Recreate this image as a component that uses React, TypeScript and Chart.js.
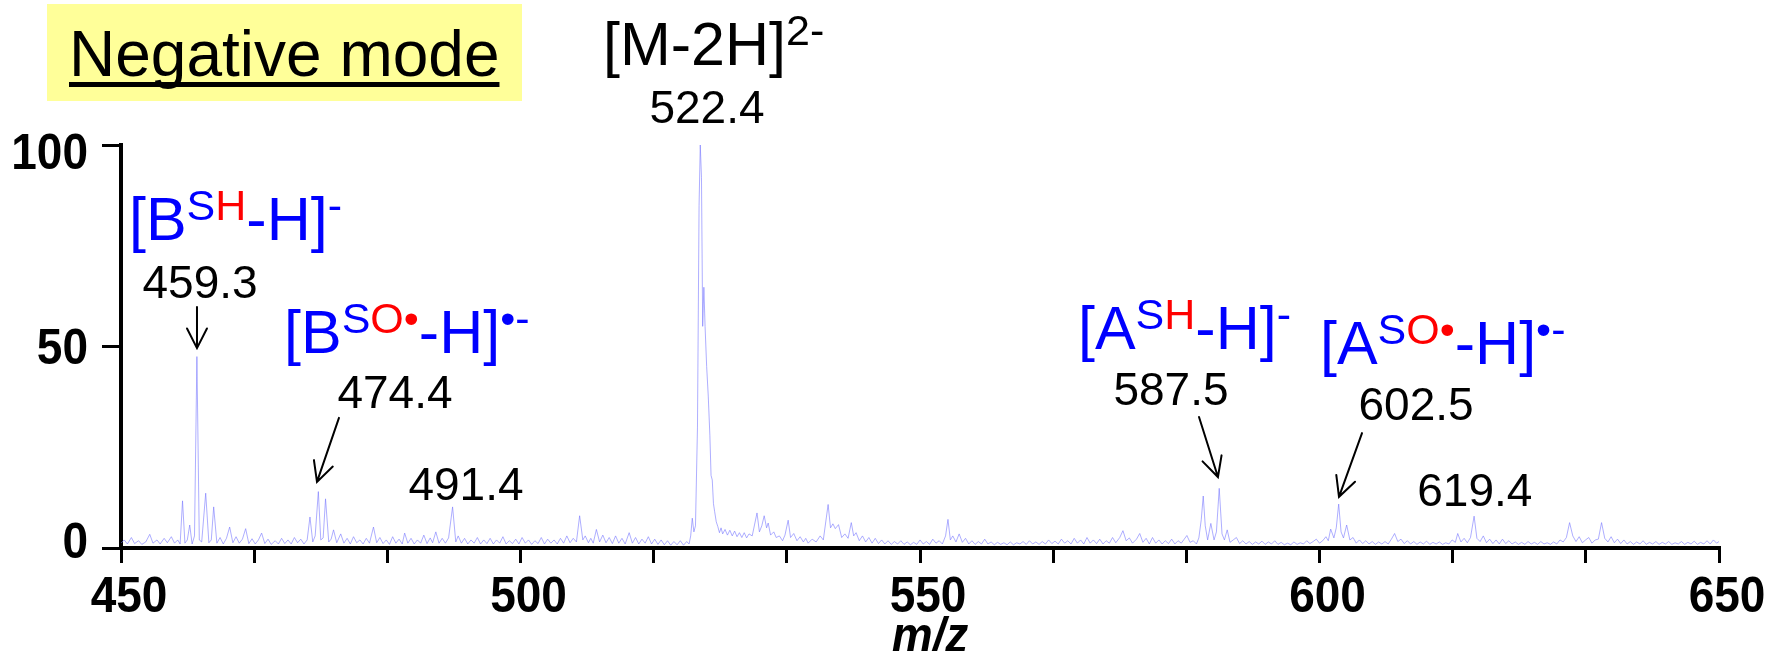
import React, { useEffect, useRef } from "react";
import { Chart, registerables } from "chart.js";

Chart.register(...registerables);

const FONT = '"Liberation Sans", Arial, sans-serif';

// ---- data: [m/z, relative intensity %] ----
const spectrum450to490: [number, number][] = [
  [450.0, 1.2], [450.4, 2.0], [450.8, 1.0], [451.3, 2.6], [451.7, 1.1], [452.2, 1.8], [452.6, 0.9], [453.1, 1.5],
  [453.6, 3.4], [454.0, 1.2], [454.5, 2.0], [454.9, 1.0], [455.4, 2.4], [455.8, 1.3], [456.3, 2.8], [456.7, 1.2],
  [457.1, 2.0], [457.4, 1.0], [457.7, 11.7], [458.0, 1.2], [458.3, 2.0], [458.6, 5.7], [458.9, 1.0], [459.2, 3.0],
  [459.5, 47.5], [459.8, 2.0], [460.1, 1.5], [460.6, 13.6], [461.0, 1.3], [461.3, 2.0], [461.6, 10.2], [462.0, 1.2],
  [462.4, 2.6], [462.8, 1.0], [463.2, 2.4], [463.6, 5.2], [464.0, 1.3], [464.4, 2.8], [464.8, 1.2], [465.2, 2.2],
  [465.6, 4.8], [466.0, 1.1], [466.4, 2.3], [466.8, 1.0], [467.2, 2.0], [467.6, 3.7], [468.0, 1.1], [468.4, 2.2],
  [468.8, 0.9], [469.3, 1.8], [469.7, 1.0], [470.1, 2.4], [470.5, 1.1], [470.9, 2.0], [471.3, 1.0], [471.7, 2.6],
  [472.1, 1.3], [472.5, 2.2], [472.9, 1.0], [473.3, 2.0], [473.65, 7.7], [474.0, 1.5], [474.3, 3.0], [474.7, 14.0],
  [475.0, 2.0], [475.3, 2.5], [475.6, 12.2], [476.0, 1.5], [476.3, 2.2], [476.6, 4.5], [477.0, 1.3], [477.5, 3.5],
  [477.9, 1.2], [478.3, 2.4], [478.7, 1.0], [479.1, 2.8], [479.5, 1.3], [479.9, 2.0], [480.3, 1.0], [480.7, 2.4],
  [481.1, 1.2], [481.6, 5.2], [482.0, 1.3], [482.4, 2.6], [482.8, 1.1], [483.2, 2.0], [483.6, 0.9], [484.0, 2.8],
  [484.4, 1.2], [484.8, 2.2], [485.2, 1.0], [485.5, 3.7], [485.9, 1.2], [486.3, 2.4], [486.7, 1.0], [487.1, 2.0],
  [487.5, 1.2], [487.9, 3.2], [488.3, 1.1], [488.7, 2.5], [489.0, 1.3], [489.4, 4.0], [489.8, 1.2], [490.2, 2.4],
];

const spectrum490to521: [number, number][] = [
  [490.6, 1.2], [491.0, 2.5], [491.5, 10.2], [491.9, 1.5], [492.2, 3.0], [492.6, 1.2], [493.0, 2.4], [493.4, 1.0],
  [493.8, 2.0], [494.2, 1.2], [494.6, 2.6], [495.0, 1.0], [495.4, 2.0], [495.8, 1.1], [496.2, 2.4], [496.6, 1.0],
  [497.0, 2.0], [497.4, 1.2], [497.8, 2.8], [498.2, 1.0], [498.6, 1.8], [499.0, 1.1], [499.4, 2.2], [499.8, 1.0],
  [500.2, 2.6], [500.6, 1.2], [501.0, 2.0], [501.4, 0.9], [501.8, 1.8], [502.2, 1.1], [502.6, 2.6], [503.0, 1.0],
  [503.4, 2.2], [503.8, 1.2], [504.2, 2.0], [504.6, 1.0], [505.0, 2.4], [505.4, 1.2], [505.8, 3.0], [506.2, 1.3],
  [506.6, 2.4], [507.0, 1.5], [507.4, 8.0], [507.8, 2.0], [508.1, 3.0], [508.5, 1.3], [508.8, 2.4], [509.1, 1.2],
  [509.5, 4.6], [509.9, 1.5], [510.3, 3.2], [510.7, 1.3], [511.1, 2.6], [511.5, 1.1], [511.9, 3.0], [512.3, 1.2],
  [512.7, 2.4], [513.1, 1.0], [513.6, 3.8], [514.0, 1.2], [514.4, 2.6], [514.8, 1.0], [515.2, 2.2], [515.6, 1.2],
  [516.0, 2.8], [516.4, 1.0], [516.8, 2.2], [517.2, 0.9], [517.6, 2.0], [518.0, 0.8], [518.4, 1.8], [518.8, 0.7],
  [519.2, 1.6], [519.6, 0.8], [520.0, 1.8], [520.4, 0.7], [520.8, 1.6], [521.1, 1.0],
];

const spectrum521to550: [number, number][] = [
  [521.3, 3.0], [521.5, 7.4], [521.7, 4.0], [521.9, 5.5], [522.15, 30], [522.35, 85], [522.5, 100], [522.65, 92],
  [522.8, 55], [522.95, 64.7], [523.1, 55], [523.3, 45], [523.5, 37.7], [523.7, 28], [523.85, 18], [524.0, 16.9],
  [524.15, 11], [524.3, 9.0], [524.5, 6.5], [524.7, 5.3], [524.9, 3.8], [525.1, 5.0], [525.3, 3.5], [525.6, 4.6],
  [525.9, 3.2], [526.2, 4.4], [526.5, 3.0], [526.8, 4.2], [527.1, 2.8], [527.4, 3.8], [527.7, 2.6], [528.0, 3.8],
  [528.3, 2.5], [528.6, 3.5], [529.0, 3.0], [529.6, 8.7], [529.9, 4.0], [530.2, 5.5], [530.5, 8.0], [530.8, 5.0],
  [531.0, 6.2], [531.3, 3.2], [531.7, 4.0], [532.0, 2.6], [532.4, 3.0], [532.8, 1.8], [533.1, 3.2], [533.5, 6.9],
  [533.8, 2.6], [534.2, 3.6], [534.6, 1.8], [535.0, 2.8], [535.4, 1.5], [535.7, 2.4], [536.0, 1.2], [536.5, 2.2],
  [537.0, 1.5], [537.5, 3.0], [537.9, 2.0], [538.5, 10.8], [538.8, 5.0], [539.1, 6.0], [539.4, 4.8], [539.8, 5.8],
  [540.2, 2.6], [540.6, 3.5], [541.0, 2.4], [541.4, 6.3], [541.7, 3.0], [542.0, 3.8], [542.4, 1.8], [542.8, 3.0],
  [543.2, 1.5], [543.6, 2.6], [544.0, 1.2], [544.4, 2.4], [544.8, 1.1], [545.2, 2.0], [545.6, 1.0], [546.0, 1.8],
  [546.4, 0.9], [546.8, 1.6], [547.2, 1.0], [547.6, 1.8], [548.0, 0.9], [548.4, 1.5], [548.8, 0.8], [549.2, 1.4],
  [549.6, 0.9], [550.0, 2.0],
];

const spectrum550to580: [number, number][] = [
  [550.4, 1.0], [550.8, 1.6], [551.2, 0.9], [551.6, 2.2], [552.0, 1.2], [552.4, 1.8], [552.8, 1.0], [553.2, 3.0],
  [553.5, 7.1], [553.8, 2.0], [554.1, 3.0], [554.5, 1.5], [554.9, 3.5], [555.3, 1.4], [555.7, 2.4], [556.1, 1.0],
  [556.5, 1.8], [556.9, 0.9], [557.3, 1.6], [557.7, 1.0], [558.1, 2.2], [558.5, 1.0], [558.9, 1.5], [559.3, 0.8],
  [559.7, 1.4], [560.1, 0.9], [560.5, 1.3], [560.9, 0.8], [561.3, 1.5], [561.7, 0.8], [562.1, 1.3], [562.5, 1.0],
  [562.9, 1.6], [563.3, 0.9], [563.7, 1.8], [564.1, 1.0], [564.5, 1.5], [564.9, 0.9], [565.3, 1.6], [565.7, 1.0],
  [566.1, 2.0], [566.5, 1.1], [566.9, 1.7], [567.3, 1.0], [567.7, 2.2], [568.1, 1.2], [568.5, 1.8], [568.9, 1.0],
  [569.3, 2.4], [569.7, 1.2], [570.1, 2.0], [570.5, 1.0], [570.9, 2.6], [571.3, 1.2], [571.7, 2.0], [572.1, 1.1],
  [572.5, 2.2], [572.9, 1.0], [573.3, 1.8], [573.7, 1.2], [574.1, 2.6], [574.5, 1.3], [575.0, 2.6], [575.4, 4.3],
  [575.8, 1.8], [576.2, 2.5], [576.6, 1.2], [577.1, 2.2], [577.5, 3.6], [577.9, 1.4], [578.3, 2.4], [578.7, 1.0],
  [579.1, 2.6], [579.5, 1.2], [579.9, 2.0],
];

const spectrum580to610: [number, number][] = [
  [580.3, 1.0], [580.7, 1.8], [581.1, 1.1], [581.5, 2.2], [581.9, 1.0], [582.3, 1.8], [582.7, 1.2], [583.0, 2.0],
  [583.4, 3.1], [583.8, 1.4], [584.2, 1.8], [584.6, 1.0], [584.9, 2.5], [585.2, 7.0], [585.45, 12.9], [585.7, 5.5],
  [586.0, 2.0], [586.4, 6.1], [586.8, 2.0], [587.1, 4.0], [587.45, 14.8], [587.8, 3.5], [588.1, 2.0], [588.45, 4.5],
  [588.8, 1.4], [589.2, 2.0], [589.6, 2.6], [590.0, 1.1], [590.4, 1.8], [590.8, 1.0], [591.2, 1.6], [591.6, 0.9],
  [592.0, 1.5], [592.4, 1.0], [592.8, 1.7], [593.2, 0.9], [593.6, 1.5], [594.0, 1.0], [594.4, 1.8], [594.8, 0.9],
  [595.2, 1.4], [595.6, 0.8], [596.0, 1.2], [596.4, 0.8], [596.8, 1.5], [597.2, 0.9], [597.6, 1.3], [598.0, 1.0],
  [598.4, 1.8], [598.8, 1.1], [599.2, 1.6], [599.6, 2.2], [600.0, 1.2], [600.4, 1.8], [600.8, 2.8], [601.1, 1.8],
  [601.4, 4.7], [601.8, 2.5], [602.1, 5.0], [602.4, 10.9], [602.7, 4.0], [603.0, 2.5], [603.4, 5.7], [603.8, 2.0],
  [604.2, 2.6], [604.6, 1.2], [605.0, 2.0], [605.4, 1.1], [605.8, 1.8], [606.2, 1.0], [606.6, 1.6], [607.0, 0.9],
  [607.4, 1.5], [607.8, 1.0], [608.2, 1.6], [608.6, 1.0], [609.0, 2.2], [609.4, 3.6], [609.8, 1.6], [610.2, 2.2],
];

const spectrum610to650: [number, number][] = [
  [610.6, 1.1], [611.0, 1.8], [611.4, 1.0], [611.8, 1.6], [612.2, 0.9], [612.6, 1.5], [613.0, 1.0], [613.4, 1.7],
  [613.8, 0.9], [614.2, 1.4], [614.6, 1.0], [615.0, 1.5], [615.4, 0.9], [615.8, 1.3], [616.2, 1.0], [616.6, 2.0],
  [617.0, 1.4], [617.3, 3.6], [617.7, 1.5], [618.1, 2.4], [618.5, 1.3], [618.9, 2.6], [619.35, 7.9], [619.7, 2.4],
  [620.1, 1.6], [620.5, 3.0], [620.9, 1.3], [621.3, 2.2], [621.7, 1.1], [622.1, 2.0], [622.5, 1.0], [622.9, 2.2],
  [623.3, 1.1], [623.7, 1.8], [624.1, 1.0], [624.5, 1.5], [624.9, 0.9], [625.3, 1.4], [625.7, 0.9], [626.1, 1.6],
  [626.5, 1.0], [626.9, 1.4], [627.3, 0.9], [627.7, 1.6], [628.1, 1.0], [628.5, 1.3], [628.9, 0.9], [629.3, 1.5],
  [629.7, 1.0], [630.1, 2.0], [630.5, 1.5], [630.9, 2.6], [631.3, 6.3], [631.7, 3.0], [632.1, 1.6], [632.5, 2.8],
  [632.9, 1.3], [633.3, 2.0], [633.7, 2.6], [634.1, 1.2], [634.5, 2.0], [634.9, 2.2], [635.3, 6.3], [635.7, 2.4],
  [636.1, 1.5], [636.5, 2.8], [636.9, 1.3], [637.3, 2.2], [637.7, 1.1], [638.1, 2.0], [638.5, 1.0], [638.9, 1.6],
  [639.3, 0.9], [639.7, 1.5], [640.1, 1.0], [640.5, 1.8], [640.9, 0.9], [641.3, 1.4], [641.7, 1.0], [642.1, 1.6],
  [642.5, 0.9], [642.9, 1.4], [643.3, 1.0], [643.7, 1.6], [644.1, 0.9], [644.5, 1.3], [644.9, 1.0], [645.3, 1.6],
  [645.7, 0.9], [646.1, 1.4], [646.5, 1.0], [646.9, 1.7], [647.3, 0.9], [647.7, 1.4], [648.1, 1.0], [648.5, 1.8],
  [648.9, 1.0], [649.3, 2.0], [649.7, 1.2], [650.0, 1.6],
];

// axis ticks
const xTickValues = [450, 466.667, 483.333, 500, 516.667, 533.333, 550, 566.667, 583.333, 600, 616.667, 633.333, 650];
const xTickLabels = ["450", "", "", "500", "", "", "550", "", "", "600", "", "", "650"];
const yTickValues = [0, 50, 100];
const yTickLabels = ["0", "50", "100"];
const xTitle = "m/z";
const modeTitle = "Negative mode";

// peak m/z labels (text, centre m/z, baseline level)
const peakLabelText = ["522.4", "459.3", "474.4", "491.4", "587.5", "602.5", "619.4"];
const peakLabelMz = [523.34, 459.89, 484.29, 493.18, 581.41, 612.08, 619.44];
const peakLabelLevel = [105.5, 62.0, 34.7, 11.9, 35.5, 31.8, 10.4];

// arrows: tail (m/z, level) -> head (m/z, level)
const arrowTailMz = [459.51, 477.28, 584.92, 605.32];
const arrowTailLevel = [59.8, 32.3, 32.5, 28.5];
const arrowHeadMz = [459.51, 474.53, 587.29, 602.44];
const arrowHeadLevel = [49.6, 16.4, 17.6, 12.7];

// ion assignment labels (left m/z, baseline level)
const BLUE = "#0000ff";
const RED = "#ff0000";
type Part = { t: string; c: string; sup?: boolean };
const ionLabels: { mz: number; level: number; parts: Part[] }[] = [
  { mz: 510.33, level: 119.9, parts: [{ t: "[M-2H]", c: "#000" }, { t: "2-", c: "#000", sup: true }] },
  {
    mz: 451.0, level: 76.4,
    parts: [{ t: "[B", c: BLUE }, { t: "S", c: BLUE, sup: true }, { t: "H", c: RED, sup: true }, { t: "-H]", c: BLUE }, { t: "-", c: BLUE, sup: true }],
  },
  {
    mz: 470.4, level: 48.4,
    parts: [{ t: "[B", c: BLUE }, { t: "S", c: BLUE, sup: true }, { t: "O•", c: RED, sup: true }, { t: "-H]", c: BLUE }, { t: "•-", c: BLUE, sup: true }],
  },
  {
    mz: 569.77, level: 49.4,
    parts: [{ t: "[A", c: BLUE }, { t: "S", c: BLUE, sup: true }, { t: "H", c: RED, sup: true }, { t: "-H]", c: BLUE }, { t: "-", c: BLUE, sup: true }],
  },
  {
    mz: 600.06, level: 45.7,
    parts: [{ t: "[A", c: BLUE }, { t: "S", c: BLUE, sup: true }, { t: "O•", c: RED, sup: true }, { t: "-H]", c: BLUE }, { t: "•-", c: BLUE, sup: true }],
  },
];

function drawRich(ctx: CanvasRenderingContext2D, x: number, y: number, parts: Part[]) {
  let cx = x;
  ctx.textAlign = "left";
  ctx.textBaseline = "alphabetic";
  for (const p of parts) {
    ctx.font = p.sup ? `43px ${FONT}` : `61px ${FONT}`;
    ctx.fillStyle = p.c;
    ctx.fillText(p.t, cx, p.sup ? y - 20 : y);
    cx += ctx.measureText(p.t).width;
  }
}

// draws text slightly stretched vertically, like the figure's axis font
function drawTall(ctx: CanvasRenderingContext2D, text: string, x: number, baseline: number, align: CanvasTextAlign, font: string) {
  ctx.save();
  ctx.translate(x, baseline);
  ctx.scale(1, 1.08);
  ctx.font = font;
  ctx.textAlign = align;
  ctx.textBaseline = "alphabetic";
  ctx.fillStyle = "#000";
  ctx.fillText(text, 0, 0);
  ctx.restore();
}

const axisLabelPlugin = {
  id: "axisLabels",
  afterDraw(chart: any) {
    const ctx: CanvasRenderingContext2D = chart.ctx;
    const xs = chart.scales.x;
    const ys = chart.scales.y;
    const tickFont = `bold 46px ${FONT}`;
    xTickValues.forEach((v, i) => {
      if (!xTickLabels[i]) return;
      drawTall(ctx, xTickLabels[i], xs.getPixelForValue(v) + 8, xs.top + 64, "center", tickFont);
    });
    // the figure's y labels sit slightly inside the end ticks
    const mid = (ys.top + ys.bottom) / 2;
    yTickValues.forEach((v, i) => {
      const cy = mid + (ys.getPixelForValue(v) - mid) * 0.965;
      drawTall(ctx, yTickLabels[i], ys.right - 33, cy + 17, "right", tickFont);
    });
    drawTall(ctx, xTitle, (xs.left + xs.right) / 2 + 10, xs.top + 104, "center", `italic bold 46px ${FONT}`);
  },
};

const annotationPlugin = {
  id: "msAnnotations",
  afterDraw(chart: any) {
    const ctx: CanvasRenderingContext2D = chart.ctx;
    const xs = chart.scales.x;
    const ys = chart.scales.y;
    ctx.save();
    // mode badge
    ctx.fillStyle = "#ffff99";
    ctx.fillRect(47, 4, 475, 97);
    ctx.fillStyle = "#000";
    ctx.font = `64px ${FONT}`;
    ctx.textAlign = "left";
    ctx.textBaseline = "alphabetic";
    ctx.fillText(modeTitle, 69, 76);
    const w = ctx.measureText(modeTitle).width;
    ctx.fillRect(69, 82, w, 5);

    // ion labels
    ionLabels.forEach((l) => drawRich(ctx, xs.getPixelForValue(l.mz), ys.getPixelForValue(l.level), l.parts));

    // peak m/z labels
    ctx.font = `46px ${FONT}`;
    ctx.fillStyle = "#000";
    ctx.textAlign = "center";
    ctx.textBaseline = "alphabetic";
    peakLabelText.forEach((t, i) => {
      ctx.fillText(t, xs.getPixelForValue(peakLabelMz[i]), ys.getPixelForValue(peakLabelLevel[i]));
    });

    // arrows
    ctx.strokeStyle = "#000";
    ctx.lineWidth = 2;
    ctx.lineCap = "round";
    arrowTailMz.forEach((_, i) => {
      const tx = xs.getPixelForValue(arrowTailMz[i]);
      const ty = ys.getPixelForValue(arrowTailLevel[i]);
      const hx = xs.getPixelForValue(arrowHeadMz[i]);
      const hy = ys.getPixelForValue(arrowHeadLevel[i]);
      const ang = Math.atan2(hy - ty, hx - tx);
      const len = 22;
      const spread = 0.47;
      ctx.beginPath();
      ctx.moveTo(tx, ty);
      ctx.lineTo(hx, hy);
      ctx.moveTo(hx - len * Math.cos(ang - spread), hy - len * Math.sin(ang - spread));
      ctx.lineTo(hx, hy);
      ctx.lineTo(hx - len * Math.cos(ang + spread), hy - len * Math.sin(ang + spread));
      ctx.stroke();
    });
    ctx.restore();
  },
};

export default function App() {
  const canvasRef = useRef<HTMLCanvasElement | null>(null);

  useEffect(() => {
    const canvas = canvasRef.current;
    if (!canvas) return;
    const points = [
      ...spectrum450to490,
      ...spectrum490to521,
      ...spectrum521to550,
      ...spectrum550to580,
      ...spectrum580to610,
      ...spectrum610to650,
    ].map(([x, y]) => ({ x, y }));

    const chart = new Chart(canvas, {
      type: "line",
      data: {
        datasets: [
          {
            data: points,
            borderColor: "rgba(120,120,255,0.6)",
            borderWidth: 1,
            pointRadius: 0,
            tension: 0,
            fill: false,
          },
        ],
      },
      options: {
        animation: false,
        responsive: false,
        devicePixelRatio: 1,
        layout: { padding: { left: 0, top: 145, right: 59, bottom: 0 } },
        plugins: { legend: { display: false }, tooltip: { enabled: false } },
        scales: {
          x: {
            type: "linear",
            min: 450,
            max: 650,
            afterFit: (s: any) => {
              s.height = 103;
            },
            afterBuildTicks: (s: any) => {
              s.ticks = xTickValues.map((v) => ({ value: v }));
            },
            border: { display: true, color: "#000", width: 4 },
            grid: {
              drawOnChartArea: false,
              drawTicks: true,
              tickLength: 15,
              color: "#000",
              lineWidth: 3,
              tickWidth: 3,
              tickColor: "#000",
            },
            ticks: { display: false, autoSkip: false, maxRotation: 0 },
            title: { display: false, text: xTitle },
          },
          y: {
            type: "linear",
            min: 0,
            max: 100,
            afterFit: (s: any) => {
              s.width = 121;
            },
            afterBuildTicks: (s: any) => {
              s.ticks = yTickValues.map((v) => ({ value: v }));
            },
            border: { display: true, color: "#000", width: 4 },
            grid: {
              drawOnChartArea: false,
              drawTicks: true,
              tickLength: 19,
              color: "#000",
              lineWidth: 3,
              tickWidth: 3,
              tickColor: "#000",
            },
            ticks: { display: false },
          },
        },
      },
      plugins: [axisLabelPlugin, annotationPlugin],
    });
    return () => chart.destroy();
  }, []);

  return (
    <div style={{ position: "fixed", left: 0, top: 0, width: 1778, height: 651, background: "#fff" }}>
      <canvas ref={canvasRef} width={1778} height={651} style={{ display: "block" }} />
    </div>
  );
}
